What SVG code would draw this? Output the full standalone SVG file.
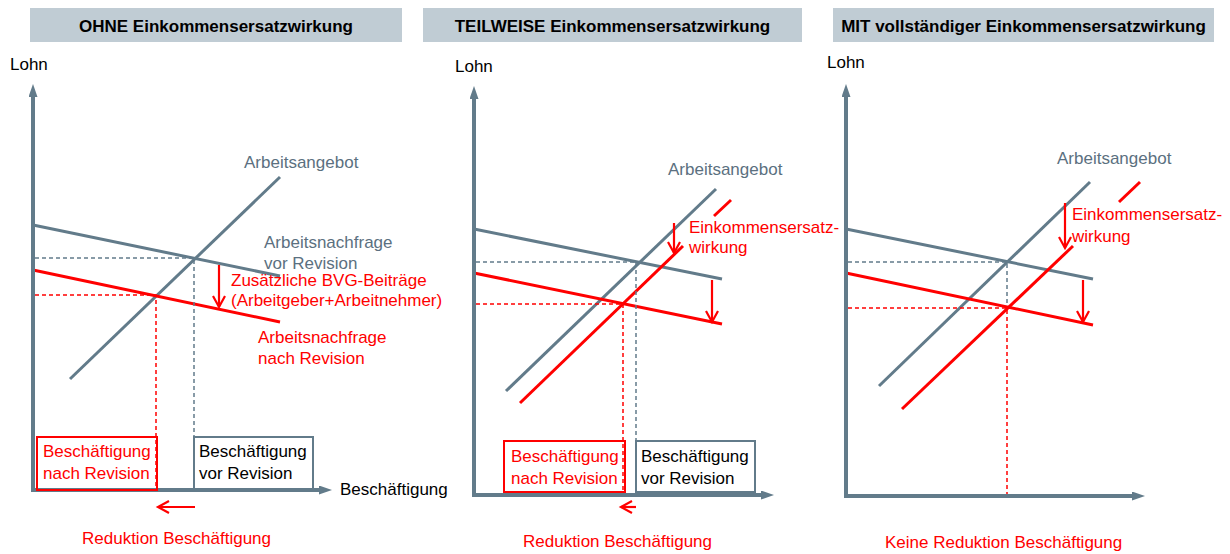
<svg xmlns="http://www.w3.org/2000/svg" width="1230" height="554" viewBox="0 0 1230 554">
<style>
text{font-family:"Liberation Sans",Arial,sans-serif;font-size:17px;}
.hd{fill:#c0ccd4;}
.ht{font-weight:bold;text-anchor:middle;fill:#000;}
.k{fill:#000;}
.gt{fill:#5b7080;}
.rt{fill:#ff0000;}
.ax{stroke:#627b8a;stroke-width:4;fill:none;marker-end:url(#axh);}
.gl{stroke:#627b8a;stroke-width:3;fill:none;}
.rl{stroke:#ff0000;stroke-width:3;fill:none;}
.gd{stroke:#627b8a;stroke-width:1.5;stroke-dasharray:4 3;fill:none;}
.rd{stroke:#ff0000;stroke-width:1.5;stroke-dasharray:4 3;fill:none;}
.ra{stroke:#ff0000;stroke-width:2.2;fill:none;marker-end:url(#rah);}
.rb{stroke:#ff0000;stroke-width:2;fill:none;}
.gb{stroke:#627b8a;stroke-width:2;fill:none;}
</style>
<defs>
<marker id="axh" viewBox="0 0 13 9" markerWidth="13" markerHeight="9" refX="1" refY="4.5" orient="auto" markerUnits="userSpaceOnUse"><path d="M0,0 L13,4.5 L0,9 z" fill="#627b8a"/></marker>
<marker id="rah" viewBox="-1 -1 14 14" markerWidth="14" markerHeight="14" refX="11" refY="6" orient="auto" markerUnits="userSpaceOnUse" overflow="visible"><path d="M0,0 L11,6 L0,12" fill="none" stroke="#ff0000" stroke-width="2.2"/></marker>
</defs>

<g id="panel-ohne">
<rect class="hd" x="30" y="8" width="372" height="34"/>
<text class="ht" x="216" y="32">OHNE Einkommensersatzwirkung</text>
<text class="k" x="10" y="70">Lohn</text>
<g id="p1-connectors">
<line class="gl" x1="33" y1="225" x2="280" y2="276"/>
<line class="gl" x1="70" y1="379" x2="280" y2="177"/>
<line class="rl" x1="33" y1="270" x2="280" y2="322"/>
<polyline class="gd" points="35,258 194,258 194,490"/>
<polyline class="rd" points="35,295 156,295 156,490"/>
<line class="ra" x1="219" y1="265" x2="219" y2="307"/>
<line class="ra" x1="195" y1="507" x2="158" y2="507"/>
<line class="ax" x1="33" y1="492" x2="33" y2="96"/>
<line class="ax" x1="31" y1="490" x2="320" y2="490"/>
</g>
<rect id="p1-box-nach" class="rb" x="37" y="437" width="120" height="53"/>
<rect id="p1-box-vor" class="gb" x="194" y="437" width="119" height="53"/>
<text class="gt" x="244" y="168">Arbeitsangebot</text>
<text class="gt" x="264" y="248">Arbeitsnachfrage</text>
<text class="gt" x="264" y="269">vor Revision</text>
<text class="rt" x="231" y="286">Zusätzliche BVG-Beiträge</text>
<text class="rt" x="231" y="306">(Arbeitgeber+Arbeitnehmer)</text>
<text class="rt" x="258" y="343">Arbeitsnachfrage</text>
<text class="rt" x="258" y="364">nach Revision</text>
<text class="rt" x="43" y="457">Beschäftigung</text>
<text class="rt" x="43" y="479">nach Revision</text>
<text class="k" x="199" y="457">Beschäftigung</text>
<text class="k" x="199" y="479">vor Revision</text>
<text class="k" x="340" y="495">Beschäftigung</text>
<text class="rt" x="82" y="544">Reduktion Beschäftigung</text>
</g>

<g id="panel-teilweise">
<rect class="hd" x="423" y="8" width="379" height="34"/>
<text class="ht" x="612.5" y="32">TEILWEISE Einkommensersatzwirkung</text>
<text class="k" x="455" y="72">Lohn</text>
<g id="p2-connectors">
<line class="gl" x1="474" y1="229" x2="722" y2="279"/>
<line class="gl" x1="506" y1="391" x2="716" y2="189"/>
<line class="rl" x1="474" y1="273" x2="722" y2="324"/>
<line class="rl" x1="731" y1="200" x2="714" y2="216"/>
<line class="rl" x1="683" y1="246" x2="520" y2="403"/>
<polyline class="gd" points="476,262 636,262 636,495"/>
<polyline class="rd" points="476,304 623,304 623,495"/>
<line class="ra" x1="674" y1="223" x2="674" y2="253"/>
<line class="ra" x1="712" y1="280" x2="712" y2="322"/>
<line class="ra" x1="636" y1="507" x2="621" y2="507"/>
<line class="ax" x1="474" y1="497" x2="474" y2="98"/>
<line class="ax" x1="472" y1="495" x2="762" y2="495"/>
</g>
<rect id="p2-box-nach" class="rb" x="504" y="441" width="121" height="51"/>
<rect id="p2-box-vor" class="gb" x="636" y="441" width="119" height="51"/>
<text class="gt" x="668" y="175">Arbeitsangebot</text>
<text class="rt" x="689" y="233">Einkommensersatz-</text>
<text class="rt" x="689" y="253">wirkung</text>
<text class="rt" x="511" y="462">Beschäftigung</text>
<text class="rt" x="511" y="484">nach Revision</text>
<text class="k" x="641" y="462">Beschäftigung</text>
<text class="k" x="641" y="484">vor Revision</text>
<text class="rt" x="523" y="547">Reduktion Beschäftigung</text>
</g>

<g id="panel-mit">
<rect class="hd" x="833" y="8" width="381" height="34"/>
<text class="ht" x="1023.5" y="32">MIT vollständiger Einkommensersatzwirkung</text>
<text class="k" x="827" y="68">Lohn</text>
<g id="p3-connectors">
<line class="gl" x1="846" y1="229" x2="1093" y2="279"/>
<line class="gl" x1="879" y1="386" x2="1090" y2="182"/>
<line class="rl" x1="846" y1="273" x2="1093" y2="325"/>
<line class="rl" x1="1140" y1="182" x2="1119" y2="202"/>
<line class="rl" x1="1073" y1="246" x2="902" y2="409"/>
<polyline class="gd" points="848,262 1007,262 1007,306"/>
<polyline class="rd" points="848,308 1007,308 1007,496"/>
<line class="ra" x1="1065" y1="203" x2="1065" y2="248"/>
<line class="ra" x1="1083" y1="280" x2="1083" y2="322"/>
<line class="ax" x1="846" y1="498" x2="846" y2="96"/>
<line class="ax" x1="844" y1="496" x2="1133" y2="496"/>
</g>
<text class="gt" x="1057" y="164">Arbeitsangebot</text>
<text class="rt" x="1072" y="220">Einkommensersatz-</text>
<text class="rt" x="1072" y="242">wirkung</text>
<text class="rt" x="885" y="548">Keine Reduktion Beschäftigung</text>
</g>
</svg>
